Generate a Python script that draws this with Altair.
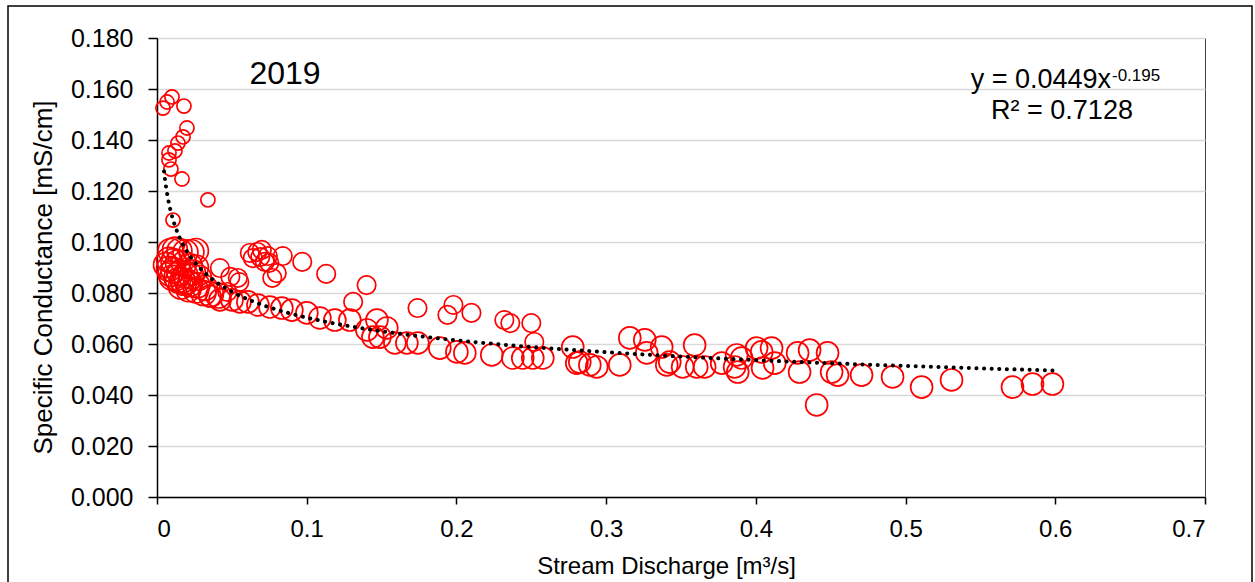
import math
import altair as alt
import pandas as pd

# ---------------- data ----------------
# high-conductance low-flow points (small markers)
hi_q = [0.0040, 0.0067, 0.0100, 0.0180, 0.0200, 0.0174, 0.0140, 0.0120, 0.0080, 0.0080, 0.0093, 0.0167, 0.0340, 0.0107]
hi_sc = [0.1525, 0.1549, 0.1569, 0.1533, 0.1447, 0.1412, 0.1388, 0.1357, 0.1349, 0.1322, 0.1286, 0.1247, 0.1165, 0.1086]

# secondary cluster above the curve (medium-small markers)
mid_q = [0.062, 0.067, 0.070, 0.064, 0.069, 0.072, 0.074, 0.075, 0.084, 0.097, 0.113, 0.140, 0.131, 0.174,
         0.077, 0.080, 0.198, 0.194, 0.210, 0.232, 0.236, 0.250, 0.252, 0.042, 0.049, 0.054, 0.055, 0.047]
mid_sc = [0.0957, 0.0961, 0.0969, 0.0937, 0.0941, 0.0922, 0.0945, 0.0918, 0.0945, 0.0922, 0.0875, 0.0831, 0.0765, 0.0741,
          0.0859, 0.0878, 0.0753, 0.0714, 0.0722, 0.0694, 0.0682, 0.0682, 0.0608, 0.0898, 0.0863, 0.0859, 0.0843, 0.0804]

# main band following the curve (medium markers)
band_q = [0.0354, 0.0421, 0.0501, 0.0554, 0.0607, 0.0674, 0.0754, 0.0834, 0.0901, 0.1001, 0.1088, 0.1188, 0.1288,
          0.1402, 0.1442, 0.1469, 0.1535, 0.1489, 0.1589, 0.1669, 0.1742, 0.1889, 0.2003, 0.2056, 0.2236, 0.2377,
          0.2443, 0.2510, 0.2577, 0.2777, 0.2804, 0.2824, 0.2891, 0.2937, 0.3091, 0.3158, 0.3258, 0.3271, 0.3371,
          0.3405, 0.3425, 0.3511, 0.3591, 0.3605, 0.3658, 0.3772, 0.3858, 0.3872, 0.3905, 0.3879, 0.4005, 0.4039,
          0.4045, 0.4105, 0.4126, 0.4279, 0.4292, 0.4359, 0.4479, 0.4506, 0.4546, 0.4706, 0.4913, 0.5107, 0.5307,
          0.5714, 0.5848, 0.5981, 0.4406]
band_sc = [0.0788, 0.0773, 0.0773, 0.0765, 0.0765, 0.0753, 0.0745, 0.0741, 0.0733, 0.0722, 0.0702, 0.0694, 0.0694,
           0.0655, 0.0627, 0.0694, 0.0663, 0.0627, 0.0604, 0.0604, 0.0604, 0.0584, 0.0569, 0.0565, 0.0557, 0.0545,
           0.0545, 0.0545, 0.0545, 0.0588, 0.0525, 0.0529, 0.0518, 0.0510, 0.0518, 0.0624, 0.0616, 0.0565, 0.0588,
           0.0518, 0.0529, 0.0510, 0.0596, 0.0510, 0.0510, 0.0525, 0.0510, 0.0557, 0.0545, 0.0490, 0.0584, 0.0569,
           0.0506, 0.0584, 0.0525, 0.0565, 0.0490, 0.0576, 0.0565, 0.0490, 0.0478, 0.0478, 0.0471, 0.0431, 0.0459,
           0.0431, 0.0443, 0.0443, 0.0361]

# dense cluster at the lowest flows (large markers)
big_q = [0.009, 0.012, 0.015, 0.019, 0.023, 0.026,
         0.008, 0.011, 0.014, 0.018, 0.022, 0.026,
         0.008, 0.011, 0.015, 0.019, 0.023, 0.028,
         0.010, 0.014, 0.018, 0.022, 0.027, 0.032,
         0.016, 0.021, 0.026, 0.031, 0.036, 0.041,
         0.006, 0.009, 0.013, 0.017, 0.020, 0.024]
big_sc = [0.0965, 0.0970, 0.0965, 0.0960, 0.0960, 0.0965,
          0.0930, 0.0925, 0.0920, 0.0915, 0.0905, 0.0900,
          0.0895, 0.0890, 0.0880, 0.0870, 0.0865, 0.0860,
          0.0860, 0.0850, 0.0840, 0.0835, 0.0830, 0.0820,
          0.0825, 0.0815, 0.0810, 0.0800, 0.0795, 0.0790,
          0.0910, 0.0875, 0.0860, 0.0850, 0.0845, 0.0880]

groups = ["small", "medium", "band", "large"]

# power trendline as printed on the chart: y = 0.0449 x^-0.195, R² = 0.7128
TREND_A = 0.0449
TREND_B = -0.195
TREND_Q_MIN = 0.0047
TREND_Q_MAX = 0.598

YEAR_LABEL = "2019"
EQ_MAIN = "y = 0.0449x"
EQ_SUP = "-0.195"
R2_LABEL = "R² = 0.7128"

x_ticks = [0, 0.1, 0.2, 0.3, 0.4, 0.5, 0.6, 0.7]
y_ticks = [0, 0.02, 0.04, 0.06, 0.08, 0.1, 0.12, 0.14, 0.16, 0.18]

# ---------------- build ----------------
df = pd.concat([
    pd.DataFrame({"q": hi_q, "sc": hi_sc, "grp": "small"}),
    pd.DataFrame({"q": mid_q, "sc": mid_sc, "grp": "medium"}),
    pd.DataFrame({"q": band_q, "sc": band_sc, "grp": "band"}),
    pd.DataFrame({"q": big_q, "sc": big_sc, "grp": "large"}),
], ignore_index=True)

FONT = "Liberation Sans"
x_scale = alt.Scale(domain=[0, 0.7], nice=False, zero=False)
y_scale = alt.Scale(domain=[0, 0.18], nice=False)

x_axis = alt.Axis(
    values=x_ticks, grid=False,
    labelExpr="datum.value == 0 ? '0' : format(datum.value, '.1f')",
    labelFont=FONT, labelFontSize=24, labelColor="black", labelPadding=13,
    tickColor="black", tickSize=7, tickWidth=1.5,
    domainColor="black", domainWidth=1.5,
    title="Stream Discharge [m³/s]", titleFont=FONT, titleFontSize=24,
    titleFontWeight="normal", titleColor="black",
    titleX=509, titleY=76, titleBaseline="alphabetic",
)
y_axis = alt.Axis(
    values=y_ticks, format=".3f", grid=True, gridColor="#d9d9d9", gridWidth=1.5,
    labelFont=FONT, labelFontSize=25, labelColor="black", labelPadding=15,
    tickColor="black", tickSize=9, tickWidth=1.5,
    domainColor="black", domainWidth=1.5,
    title="Specific Conductance [mS/cm]", titleFont=FONT, titleFontSize=26,
    titleFontWeight="normal", titleColor="black",
    titleX=-114, titleY=239, titleBaseline="middle", titleAngle=-90,
)

points = alt.Chart(df).mark_point(
    shape="circle", filled=False, color="#ff0000", strokeWidth=1.7, opacity=1
).encode(
    x=alt.X("q:Q", scale=x_scale, axis=x_axis),
    y=alt.Y("sc:Q", scale=y_scale, axis=y_axis),
    size=alt.Size("grp:N", scale=alt.Scale(domain=groups, range=[200, 620, 1000, 1800]), legend=None),
)

trend = alt.Chart(
    alt.sequence(math.log(TREND_Q_MIN), math.log(TREND_Q_MAX) + 0.004, 0.004, as_="t")
).transform_calculate(
    q="exp(datum.t)",
    sc=f"{TREND_A} * pow(exp(datum.t), {TREND_B})",
).mark_line(
    color="black", strokeWidth=4, strokeCap="round", strokeDash=[0.1, 7.5]
).encode(
    x=alt.X("q:Q", scale=x_scale),
    y=alt.Y("sc:Q", scale=y_scale),
)

one = alt.Data(values=[{}])
year = alt.Chart(one).mark_text(
    text=YEAR_LABEL, font=FONT, fontSize=32, color="black", align="center", baseline="alphabetic"
).encode(x=alt.value(128), y=alt.value(46))
eq_main = alt.Chart(one).mark_text(
    text=EQ_MAIN, font=FONT, fontSize=27, color="black", align="right", baseline="alphabetic"
).encode(x=alt.value(954), y=alt.value(50))
eq_sup = alt.Chart(one).mark_text(
    text=EQ_SUP, font=FONT, fontSize=17, color="black", align="left", baseline="alphabetic"
).encode(x=alt.value(955), y=alt.value(43))
r2 = alt.Chart(one).mark_text(
    text=R2_LABEL, font=FONT, fontSize=27, color="black", align="center", baseline="alphabetic"
).encode(x=alt.value(905), y=alt.value(81))

frame = alt.Chart(one).mark_rect(
    fill="white", fillOpacity=0, stroke="black", strokeWidth=1.5
).encode(x=alt.value(-149), x2=alt.value(1095), y=alt.value(-32), y2=alt.value(600))

chart = alt.layer(points, trend, year, eq_main, eq_sup, r2, frame).properties(
    width=1048, height=459,
    autosize=alt.AutoSizeParams(type="none"),
    padding={"left": 157, "top": 38, "right": 50, "bottom": 85},
    background="white",
).configure_view(stroke="#404040", strokeWidth=1)

chart.save("out.html", embed_options={"renderer": "svg", "actions": False})
